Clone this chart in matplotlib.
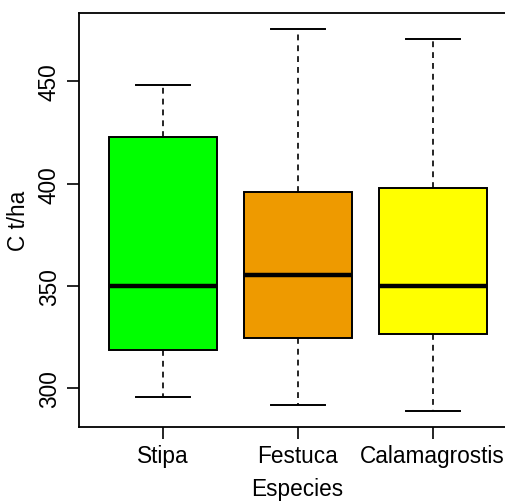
import matplotlib.pyplot as plt

plt.rcParams['font.family'] = ['Liberation Sans', 'DejaVu Sans']

# values
especies = ["Stipa", "Festuca", "Calamagrostis"]
wlo = [295.9, 291.8, 288.9]
q1 = [319.0, 324.5, 326.6]
med = [349.9, 355.4, 349.9]
q3 = [422.6, 395.9, 397.7]
whi = [448.0, 475.5, 470.8]
colores = ["#00FF00", "#EE9A00", "#FFFF00"]

stats = []
for i in range(len(especies)):
    stats.append({"label": especies[i], "whislo": wlo[i], "q1": q1[i],
                  "med": med[i], "q3": q3[i], "whishi": whi[i], "fliers": []})

fig = plt.figure(figsize=(5.05, 5.02), dpi=100)
ax = fig.add_axes([0.1564, 0.148, 0.866, 0.8234])

bp = ax.bxp(stats, positions=[1, 2, 3], widths=0.8, patch_artist=True,
            showfliers=False,
            boxprops=dict(edgecolor="black", linewidth=1.4),
            medianprops=dict(color="black", linewidth=3.2, solid_capstyle="butt"),
            whiskerprops=dict(color="black", linewidth=1.2, linestyle=(0, (3.5, 3))),
            capprops=dict(color="black", linewidth=1.4),
            capwidths=0.4)
for patch, c in zip(bp["boxes"], colores):
    patch.set_facecolor(c)

ax.set_xlim(0.38, 3.62)
ax.set_ylim(281.3, 483.2)
ax.set_yticks([300, 350, 400, 450])
ax.set_yticklabels(["300", "350", "400", "450"], rotation=90, va="center")
ax.tick_params(axis="both", labelsize=16.3, length=8.5, width=1.2)
ax.tick_params(axis="y", pad=4.5)
ax.tick_params(axis="x", pad=4)
for s in ax.spines.values():
    s.set_linewidth(1.3)

ax.set_xlabel("Especies", fontsize=16.3, labelpad=7)
ax.set_ylabel("C t/ha", fontsize=16.3, labelpad=6)

fig.savefig("out.png", dpi=100)
